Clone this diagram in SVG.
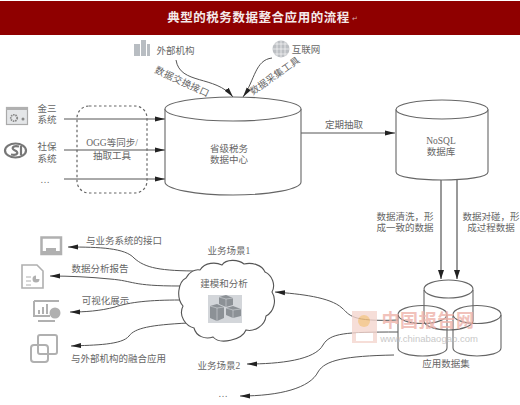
<svg xmlns="http://www.w3.org/2000/svg" width="520" height="405" viewBox="0 0 520 405">
<style>
text{font-family:"Liberation Serif","Noto Sans CJK SC",serif;font-size:9.5px;fill:#666;text-anchor:middle;dominant-baseline:central}
.s{letter-spacing:.3px}
.cyl{fill:#fff;stroke:#666;stroke-width:1.1}
.o{fill:none;stroke:#666;stroke-width:1.1}
.c{fill:none;stroke:#555;stroke-width:1;marker-end:url(#a)}
.v{fill:none;stroke:#555;stroke-width:1.2;marker-end:url(#b)}
.i{fill:#b0b0b0;stroke:none}
.il{fill:none;stroke:#b0b0b0;stroke-width:2}
</style>
<defs>
<marker id="a" markerUnits="userSpaceOnUse" markerWidth="11" markerHeight="6" refX="10" refY="3" orient="auto"><path d="M0 0.500L10 3L0 5.500Z" fill="#222"/></marker>
<marker id="b" markerUnits="userSpaceOnUse" markerWidth="11" markerHeight="6" refX="9" refY="3" orient="auto"><path d="M0 0L9 3L0 6Z" fill="#222"/></marker>
</defs>
<rect width="520" height="405" fill="#fff"/>
<g id="title"><rect x="0" y="1" width="520" height="34" fill="#8f0000"/>
<text x="258.500" y="18" style="font-size:12.500px;font-weight:bold;fill:#f4eaea;letter-spacing:.55px">典型的税务数据整合应用的流程</text>
<text x="355" y="19" style="font-size:7px;fill:#d9b0b0">↵</text></g>

<g id="connectors">
<path class="c" d="M64 119H165"/><path class="c" d="M64 150H165"/><path class="c" d="M64 179H165"/>
<path class="c" d="M176 60C180 85 215 75 233 97"/>
<path class="c" d="M272 58C255 60 255 80 243 97"/>
<path class="c" d="M301 133H395"/>
<path class="v" d="M441 180V279"/><path class="v" d="M457 180V279"/>
<path class="c" d="M398 320C350 322 350 315 342 308C330 297 300 294 275 292"/>
<path class="c" d="M398 332C345 332 330 333 323 345C315 360 280 364 247 364"/>
<path class="c" d="M394 355C345 356 325 360 318 372C310 388 280 396 240 396"/>
<path class="c" d="M200 271C160 271 145 268 134 258C125 248 100 247 68 247"/>
<path class="c" d="M180 286C130 286 135 281 110 279C90 277 70 276 50 276"/>
<path class="c" d="M180 300C150 300 130 302 115 307C100 311 85 312 70 312"/>
<path class="c" d="M188 323C150 325 135 328 129 336C122 345 95 345 71 346"/>
</g>

<g id="source-jinsan"><rect x="6.500" y="107.500" width="21" height="17" fill="#e4e6e8" stroke="#aaa" stroke-width="1.200"/><rect x="6" y="107" width="22" height="3" class="i"/><circle cx="14" cy="118" r="3.200" fill="none" stroke="#888" stroke-width="1.800" stroke-dasharray="1.500 .8"/><circle cx="23" cy="119" r="1.500" fill="#888"/>
<text x="47" y="109">金三</text><text x="47" y="120">系统</text></g>
<g id="source-shebao"><ellipse cx="15.500" cy="150.500" rx="10.500" ry="7" fill="none" stroke="#777" stroke-width="2.200"/><path d="M19 146.500C12 145 11 149 15 150.500C19 152 18 156 11 154.500M21 146V155" fill="none" stroke="#777" stroke-width="2.200"/>
<text x="47" y="147">社保</text><text x="47" y="159">系统</text></g>
<g id="source-more"><text x="45" y="180">…</text></g>

<g id="ogg"><rect x="77" y="106" width="70" height="87" rx="12" fill="none" stroke="#666" stroke-width="1.200" stroke-dasharray="2.500 2.500"/>
<text x="112" y="143">OGG等同步/</text><text x="112" y="156">抽取工具</text></g>

<g id="external"><path d="M134 44H140V56H134ZM141 40H146V56H141ZM147 44H150V56H147Z" fill="#b8bdc2"/>
<text x="175.500" y="51">外部机构</text></g>
<g id="internet"><circle cx="281" cy="49" r="8.500" fill="#bcbfc3"/><path d="M272.500 49H289.500M281 40.500V57.500M274 44H288M274 54H288M277 41V57M285 41V57" stroke="#fff" stroke-width=".6"/>
<text x="306" y="50">互联网</text></g>
<g id="labels-in"><text transform="translate(182 82) rotate(25)" class="s">数据交换接口</text>
<text transform="translate(275 76) rotate(-35)" class="s">数据采集工具</text></g>

<g id="center"><path class="cyl" d="M165 109V182C165 189 195 195 233 195S301 189 301 182V109"/><ellipse class="cyl" cx="233" cy="109" rx="68" ry="12"/>
<text x="229" y="149">省级税务</text><text x="229" y="159.500">数据中心</text></g>
<text id="label-extract" x="344" y="125">定期抽取</text>

<g id="nosql"><path class="cyl" d="M396 109.500V172C396 177 418 180 442 180S488 177 488 172V109.500"/><ellipse class="cyl" cx="442" cy="109.500" rx="46" ry="9.500"/>
<text x="441" y="141">NoSQL</text><text x="441" y="152">数据库</text></g>
<text x="405" y="217">数据清洗，形</text><text x="405" y="227.500">成一致的数据</text>
<text x="491" y="217">数据对碰，形</text><text x="491" y="228">成过程数据</text>

<g id="datasets">
<path class="o" d="M424 290V321C424 326 436 330 448.500 330S473 326 473 321V290"/><ellipse class="o" cx="448.500" cy="289" rx="24.500" ry="9"/>
<path class="o" d="M398 315V348C398 353 410 356 422.500 356S447 353 447 348V315"/><ellipse class="o" cx="422.500" cy="314.500" rx="24.500" ry="9"/>
<path class="o" d="M453 315V348C453 353 465 356 477 356S501 353 501 348V315"/><ellipse class="o" cx="477" cy="314.500" rx="24" ry="9"/>
<text x="446" y="364">应用数据集</text></g>

<g id="watermark" opacity=".8">
<rect x="352" y="311" width="25" height="32" fill="#f4d6cf"/><circle cx="364" cy="321" r="6" fill="#f2c080"/><rect x="356" y="333" width="17" height="8" fill="#fff"/>
<text x="428" y="321" style="font-size:18px;font-weight:bold;fill:#eeb3ab;letter-spacing:.6px">中国报告网</text>
<text x="429" y="338" style="font-family:'Liberation Sans',sans-serif;font-size:9.500px;fill:#bbb">www.chinabaogao.com</text>
</g>

<g id="cloud"><path d="M200 270C205 262 216 262 222 265C226 259 238 259 244 264C252 262 262 265 265 272C272 275 276 285 272 292C277 300 274 312 266 316C265 326 254 332 246 330C242 340 220 345 213 337C205 340 196 336 194 328C186 326 178 316 183 306C176 298 178 282 186 278C189 272 195 269 200 270Z" fill="#fff" stroke="#555" stroke-width="1.100"/>
<text x="224" y="284">建模和分析</text>
<rect x="208" y="295" width="34" height="28" fill="#d3d6da"/>
<path d="M219 297L226 295L233 298V305L226 307L219 304Z" fill="#8c9196"/><path d="M210 306L217 304L224 307V318L217 321L210 318Z" fill="#8c9196"/><path d="M226 308L233 306L241 309V316L233 318L226 315Z" fill="#8c9196"/>
<path d="M219 297L226 299L233 298M226 299V307M210 306L217 308L224 307M217 308V321M226 308L233 310L241 309M233 310V318" fill="none" stroke="#d3d6da" stroke-width=".6"/>
</g>
<text x="229" y="251">业务场景1</text><text x="219" y="366">业务场景2</text><text x="223" y="394">…</text>

<g id="out-interface"><path class="il" d="M41.500 237.500H61V254H41.500Z" style="stroke-width:2.500"/><path d="M41 251H46V248H56V251H61V255H41Z" class="i"/><text x="124" y="241">与业务系统的接口</text></g>
<g id="out-report"><path class="il" d="M22 265H37L43 271V288H22Z" style="stroke-width:1.600"/><path d="M36 275.500A3.500 3.500 0 1 0 39.500 279H36Z" class="i"/><path d="M26 277H31M26 281H31M26 285H31" class="il" style="stroke-width:1"/><text x="100" y="269">数据分析报告</text></g>
<g id="out-visual"><path class="il" d="M34 301H59M34 301V316H50"/><path d="M38 322H55V320H38Z" class="i"/><path d="M38 314V310H40V314ZM42 314V307H44V314ZM46 314V304H48V314Z" class="i"/><circle cx="55" cy="313" r="5.500" class="i"/><text x="105.500" y="301">可视化展示</text></g>
<g id="out-fusion"><rect x="38" y="335" width="19" height="19" rx="2" class="il"/><rect x="31" y="345" width="17" height="17" rx="3" class="il"/><text x="118.500" y="359">与外部机构的融合应用</text></g>
</svg>
